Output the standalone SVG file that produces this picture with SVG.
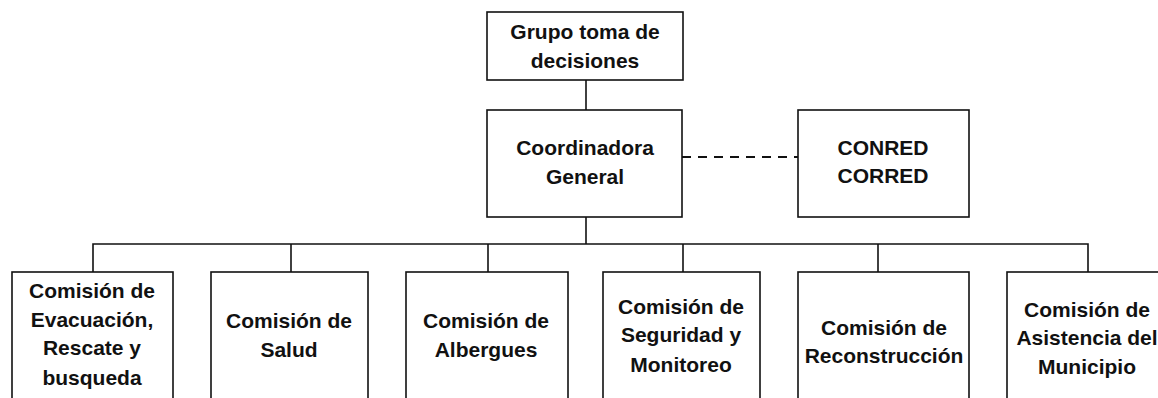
<svg xmlns="http://www.w3.org/2000/svg" width="1158" height="398" viewBox="0 0 1158 398">
<style>
.box{fill:#fff;stroke:#111;stroke-width:1.6}
.ln{fill:none;stroke:#111;stroke-width:1.6}
.dash{fill:none;stroke:#111;stroke-width:1.8;stroke-dasharray:9 7}
text{font-family:"Liberation Sans",Arial,sans-serif;font-size:21px;font-weight:bold;fill:#111;text-anchor:middle}
</style>
<rect width="1158" height="398" fill="#fff"/>
<g id="connectors">
<line class="ln" x1="586" y1="80" x2="586" y2="110"/>
<line class="ln" x1="586" y1="217" x2="586" y2="244"/>
<line class="dash" x1="682" y1="157" x2="798" y2="157"/>
<polyline class="ln" points="93,272 93,244 1088,244 1088,272"/>
<line class="ln" x1="291" y1="244" x2="291" y2="272"/>
<line class="ln" x1="488" y1="244" x2="488" y2="272"/>
<line class="ln" x1="683" y1="244" x2="683" y2="272"/>
<line class="ln" x1="878" y1="244" x2="878" y2="272"/>
</g>
<g id="grupo">
<rect class="box" x="487" y="12" width="196" height="68"/>
<text x="585" y="39">Grupo toma de</text>
<text x="585" y="68">decisiones</text>
</g>
<g id="coordinadora">
<rect class="box" x="487" y="110" width="195" height="107"/>
<text x="585" y="155">Coordinadora</text>
<text x="585" y="184">General</text>
</g>
<g id="conred">
<rect class="box" x="798" y="110" width="171" height="107"/>
<text x="883" y="155">CONRED</text>
<text x="883" y="183">CORRED</text>
</g>
<g id="evacuacion">
<rect class="box" x="12" y="272" width="161" height="130"/>
<text x="92" y="298">Comisión de</text>
<text x="92" y="327">Evacuación,</text>
<text x="92" y="355">Rescate y</text>
<text x="92" y="385">busqueda</text>
</g>
<g id="salud">
<rect class="box" x="211" y="272" width="157" height="130"/>
<text x="289" y="328">Comisión de</text>
<text x="289" y="357">Salud</text>
</g>
<g id="albergues">
<rect class="box" x="406" y="272" width="162" height="130"/>
<text x="486" y="328">Comisión de</text>
<text x="486" y="357">Albergues</text>
</g>
<g id="seguridad">
<rect class="box" x="603" y="272" width="157" height="130"/>
<text x="681" y="314">Comisión de</text>
<text x="681" y="342">Seguridad y</text>
<text x="681" y="372">Monitoreo</text>
</g>
<g id="reconstruccion">
<rect class="box" x="798" y="272" width="171" height="130"/>
<text x="884" y="335">Comisión de</text>
<text x="884" y="363">Reconstrucción</text>
</g>
<g id="asistencia">
<rect class="box" x="1007" y="272" width="170" height="130"/>
<text x="1087" y="317">Comisión de</text>
<text x="1087" y="345">Asistencia del</text>
<text x="1087" y="374">Municipio</text>
</g>
</svg>
